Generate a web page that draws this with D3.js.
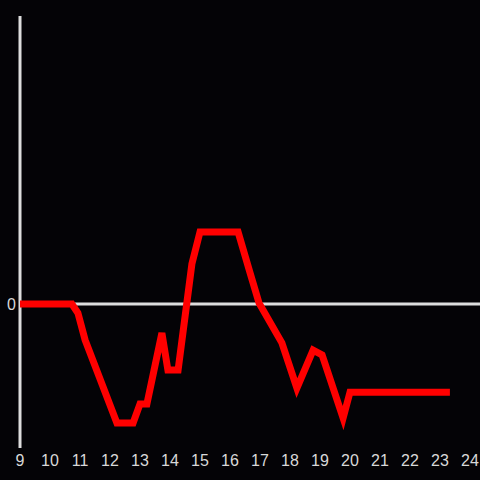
<!DOCTYPE html>
<html><head><meta charset="utf-8">
<script src="https://cdn.jsdelivr.net/npm/d3@7"></script>
<style>html,body{margin:0;padding:0;background:#040306;}svg{display:block;}</style>
</head><body><svg id="c" width="480" height="480"></svg>
<script>
const hours = [9, 10.73, 10.93, 11.17, 12.23, 12.77, 13.0, 13.23, 13.73, 13.93, 14.27, 14.73, 15.0, 16.27, 16.67, 16.97, 17.73, 18.23, 18.77, 19.07, 19.77, 20.0, 23.33];
const values = [0, 0, -3.1, -12.5, -41.3, -41.3, -34.7, -34.7, -10.1, -22.9, -22.9, 13.9, 25, 25, 10.8, 0.3, -13.5, -29.2, -16.0, -17.7, -39.6, -30.6, -30.6];
const xTicks = d3.range(9, 25);
const yTicks = [0];

const svg = d3.select("#c");
svg.append("rect").attr("width",480).attr("height",480).attr("fill","#040306");
const x = d3.scaleLinear().domain([9,24]).range([20,470]);
const y = d3.scaleLinear().domain([-50,100]).range([448,16]);

// zero line
svg.append("line").attr("x1",x(9)).attr("x2",480).attr("y1",y(0)).attr("y2",y(0))
  .attr("stroke","#dddddd").attr("stroke-width",3);
// y axis line
svg.append("line").attr("x1",x(9)).attr("x2",x(9)).attr("y1",y(-50)).attr("y2",y(100))
  .attr("stroke","#dddddd").attr("stroke-width",3);

const font = "Liberation Sans, Arial, sans-serif";
// y tick labels
svg.selectAll("text.yt").data(yTicks).join("text").attr("class","yt")
  .attr("x",x(9)-4).attr("y",y(0)+6).attr("text-anchor","end")
  .attr("fill","#d8d8d8").attr("font-family",font).attr("font-size",16)
  .text(d=>d);
// x tick labels
svg.selectAll("text.xt").data(xTicks).join("text").attr("class","xt")
  .attr("x",d=>x(d)).attr("y",466).attr("text-anchor","middle")
  .attr("fill","#d8d8d8").attr("font-family",font).attr("font-size",16)
  .text(d=>d);

const line = d3.line().x((d,i)=>x(hours[i])).y(d=>y(d));
svg.append("path").attr("d",line(values)).attr("fill","none").attr("stroke","#ff0000")
  .attr("stroke-width",7).attr("stroke-linejoin","miter").attr("stroke-linecap","butt");
</script></body></html>
